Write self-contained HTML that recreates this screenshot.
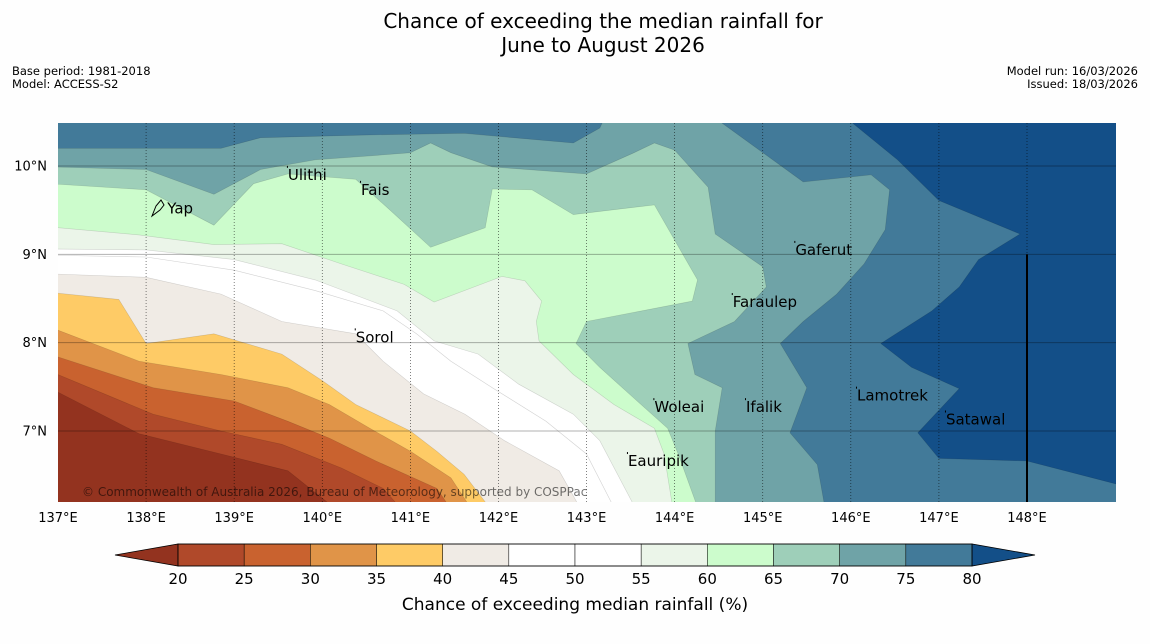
<!DOCTYPE html>
<html><head><meta charset="utf-8"><style>
body{margin:0;background:#fff;width:1150px;height:644px;overflow:hidden;font-family:"Liberation Sans","DejaVu Sans",sans-serif}
svg{display:block}
text{font-family:"DejaVu Sans","Liberation Sans",sans-serif}
</style></head><body>
<svg id="chart" width="1150" height="644" viewBox="0 0 1150 644" xmlns="http://www.w3.org/2000/svg">
<rect width="1150" height="644" fill="#fefefe"/>
<text x="603" y="28" text-anchor="middle" font-size="20" fill="#000">Chance of exceeding the median rainfall for</text>
<text x="603" y="52" text-anchor="middle" font-size="20" fill="#000">June to August 2026</text>
<text x="12" y="75" font-size="11.5">Base period: 1981-2018</text>
<text x="12" y="88" font-size="11.5">Model: ACCESS-S2</text>
<text x="1138" y="75" font-size="11.5" text-anchor="end">Model run: 16/03/2026</text>
<text x="1138" y="88" font-size="11.5" text-anchor="end">Issued: 18/03/2026</text>
<defs><clipPath id="mapclip"><rect x="58" y="123" width="1058" height="379"/></clipPath></defs>
<g id="map" clip-path="url(#mapclip)"></g>
<g id="overlay"></g>
<g id="cbar"></g>
<text x="575" y="610" text-anchor="middle" font-size="17">Chance of exceeding median rainfall (%)</text>
</svg>
<script>
const levels=[20,25,30,35,40,45,50,55,60,65,70,75,80];
const bandColors=["#93331f","#b0492a","#c9622f","#e09448","#fecb66","#f0ebe5","#ffffff","#ffffff","#ebf5e9","#ccfccc","#9ecfb9","#6fa3a7","#427a99","#134f88"];
const lonTicks=[137,138,139,140,141,142,143,144,145,146,147,148];
const latTicks=[7,8,9,10];
const c80=[[145.88,10.6],[146.53,10.07],[147.0,9.61],[147.92,9.23],[147.45,8.94],[147.23,8.63],[146.92,8.36],[146.34,7.99],[146.69,7.72],[147.23,7.48],[146.76,6.98],[147.0,6.69],[148.0,6.66],[149.05,6.39]];
const c75=[[136.9,10.20],[138.85,10.20],[139.30,10.32],[140.46,10.35],[141.61,10.37],[142.85,10.26],[143.15,10.43],[143.23,10.6],[144.38,10.6],[145.46,9.82],[146.23,9.90],[146.44,9.73],[146.39,9.28],[146.15,8.89],[145.84,8.55],[145.46,8.24],[145.20,7.99],[145.50,7.49],[145.31,6.98],[145.62,6.62],[145.73,6.0]];
const c70=[[136.9,9.99],[138.0,9.96],[138.77,9.68],[139.30,9.96],[139.92,10.07],[140.61,10.12],[141.0,10.15],[141.23,10.26],[141.46,10.15],[141.93,9.99],[143.0,9.91],[143.54,10.15],[143.77,10.26],[144.0,10.18],[144.38,9.76],[144.46,9.23],[145.0,8.86],[145.04,8.63],[144.68,8.24],[144.15,7.99],[144.23,7.64],[144.54,7.49],[144.46,7.00],[144.46,6.0]];
const c65=[[136.9,9.80],[138.0,9.73],[138.77,9.33],[139.22,9.80],[139.61,9.91],[140.38,9.85],[140.77,9.50],[141.23,9.08],[141.85,9.30],[141.93,9.74],[142.38,9.73],[142.85,9.45],[143.77,9.56],[144.26,8.71],[144.20,8.47],[143.0,8.24],[142.88,7.99],[143.15,7.72],[143.54,7.37],[143.92,7.03],[144.04,6.74],[144.31,6.0]];
const c60=[[136.9,9.31],[137.92,9.22],[138.77,9.11],[139.54,9.12],[140.22,8.89],[140.93,8.66],[141.27,8.46],[142.04,8.75],[142.30,8.70],[142.49,8.47],[142.43,8.24],[142.46,8.02],[142.85,7.64],[143.31,7.30],[143.77,7.03],[143.88,6.74],[144.0,6.0]];
const c55=[[136.9,9.06],[138.0,9.05],[139.0,8.94],[139.92,8.71],[140.85,8.36],[141.27,8.02],[141.77,7.87],[142.23,7.53],[142.85,7.19],[143.15,6.89],[143.62,6.0]];
const c50=[[136.9,8.99],[138.0,8.97],[139.0,8.82],[139.92,8.59],[140.69,8.36],[141.07,8.10],[141.46,7.79],[141.93,7.49],[142.54,7.11],[143.0,6.74],[143.38,6.0]];
const c45=[[136.9,8.78],[138.0,8.74],[138.85,8.55],[139.54,8.24],[140.38,8.10],[140.69,7.79],[141.15,7.42],[141.62,7.19],[142.07,6.89],[142.69,6.55],[143.0,6.0]];
const c40=[[136.9,8.57],[137.69,8.49],[138.0,7.99],[138.77,8.10],[139.54,7.87],[140.0,7.57],[140.38,7.30],[141.0,7.00],[141.30,6.77],[141.61,6.51],[142.0,6.0]];
const c35=[[136.9,8.18],[137.92,7.79],[138.85,7.64],[139.61,7.49],[140.08,7.30],[140.54,7.03],[141.0,6.77],[141.46,6.47],[141.77,6.0]];
const c30=[[136.9,7.87],[138.08,7.49],[139.0,7.34],[139.61,7.11],[140.08,6.92],[140.61,6.66],[141.30,6.35],[141.54,6.0]];
const c25=[[136.9,7.68],[138.08,7.19],[138.85,7.00],[139.54,6.85],[140.22,6.58],[140.69,6.35],[141.0,6.0]];
const c20=[[136.9,7.49],[137.92,6.97],[138.85,6.74],[139.61,6.55],[140.30,6.0]];
const placeNames=["Yap","Ulithi","Fais","Gaferut","Faraulep","Sorol","Woleai","Ifalik","Lamotrek","Satawal","Eauripik"];
const placeLon=[138.24,139.61,140.44,145.37,144.66,140.38,143.77,144.81,146.07,147.08,143.47];
const placeLat=[9.52,9.90,9.73,9.05,8.46,8.06,7.27,7.27,7.40,7.13,6.66];

const NS="http://www.w3.org/2000/svg";
const X0=58,X1=1027,LON0=137,LON1=148,Y0=166,Y1=431,LAT0=10,LAT1=7;
function xs(lon){return X0+(lon-LON0)*(X1-X0)/(LON1-LON0);}
function ys(lat){return Y0+(lat-LAT0)*(Y1-Y0)/(LAT1-LAT0);}
function mk(tag,attrs,parent){const e=document.createElementNS(NS,tag);for(const k in attrs)e.setAttribute(k,attrs[k]);parent.appendChild(e);return e;}
const map=document.getElementById('map'),ov=document.getElementById('overlay'),cb=document.getElementById('cbar');
const bg=mk('rect',{x:58,y:123,width:1058,height:379,fill:bandColors[13]},map);


const contours=[c80,c75,c70,c65,c60,c55,c45,c40,c35,c30,c25,c20];
const contourLevels=[80,75,70,65,60,55,45,40,35,30,25,20];
contours.forEach((pts,i)=>{
  const lvl=contourLevels[i];
  const col=bandColors[levels.indexOf(lvl)];
  const last=pts[pts.length-1],first=pts[0];
  const all=pts.concat([[last[0],5.9],[136.8,5.9],[136.8,first[1]]]);
  const d='M'+all.map(p=>xs(p[0]).toFixed(1)+','+ys(p[1]).toFixed(1)).join('L')+'Z';
  const p=mk('path',{d:d,fill:col},map);
  
  
  const l=mk('path',{d:'M'+pts.map(q=>xs(q[0]).toFixed(1)+','+ys(q[1]).toFixed(1)).join('L'),fill:'none',stroke:'rgba(0,0,0,0.15)','stroke-width':0.6},map);
  
  
});
const l50=mk('path',{d:'M'+c50.map(q=>xs(q[0]).toFixed(1)+','+ys(q[1]).toFixed(1)).join('L'),fill:'none',stroke:'rgba(0,0,0,0.18)','stroke-width':0.6},map);


// gridlines
lonTicks.forEach(lon=>{
  if(lon>LON0){const g=mk('line',{x1:xs(lon),x2:xs(lon),y1:123,y2:502,stroke:'#000','stroke-width':0.7,'stroke-dasharray':'1,2',opacity:0.7},ov);
  
  }
  const t=mk('text',{x:xs(lon),y:522,'text-anchor':'middle','font-size':13},ov);t.textContent=lon+'°E';
  
  
});
latTicks.forEach(lat=>{
  const g=mk('line',{x1:58,x2:1116,y1:ys(lat),y2:ys(lat),stroke:'#000','stroke-width':1,opacity:0.3},ov);
  
  
  const t=mk('text',{x:47,y:ys(lat)+4.5,'text-anchor':'end','font-size':13},ov);t.textContent=lat+'°N';
  
  
});
const vl=mk('line',{x1:xs(148),x2:xs(148),y1:ys(9),y2:502,stroke:'#000','stroke-width':2},ov);


const yap=mk('path',{d:'M152,216 L156,206 L161,200 L164,205 L160,210 Z',fill:'none',stroke:'#000','stroke-width':1},ov);


placeNames.forEach((n,i)=>{
  const t=mk('text',{x:xs(placeLon[i]),y:ys(placeLat[i])+5,'font-size':15,fill:'#000'},ov);t.textContent=n;
  
  
  if(i>0){const m=mk('rect',{x:xs(placeLon[i])-1,y:ys(placeLat[i])-9,width:1,height:2,fill:'#000'},ov);
  
  }
});
const cr=mk('text',{x:82,y:496,'font-size':12,fill:'#000',opacity:0.55},ov);cr.textContent='© Commonwealth of Australia 2026, Bureau of Meteorology, supported by COSPPac';


// colorbar
const CB0=178,CB1=972,CBY=544,CBH=22;
function cx(v){return CB0+(v-levels[0])*(CB1-CB0)/(levels[levels.length-1]-levels[0]);}
const lt=mk('polygon',{points:`115,${CBY+CBH/2} ${CB0},${CBY} ${CB0},${CBY+CBH}`,fill:bandColors[0],stroke:'#000','stroke-width':0.8},cb);


const rt=mk('polygon',{points:`1035,${CBY+CBH/2} ${CB1},${CBY} ${CB1},${CBY+CBH}`,fill:bandColors[13],stroke:'#000','stroke-width':0.8},cb);


for(let i=0;i<levels.length-1;i++){
  const r=mk('rect',{x:cx(levels[i]),y:CBY,width:cx(levels[i+1])-cx(levels[i]),height:CBH,fill:bandColors[i+1],stroke:'#000','stroke-width':0.5},cb);
  
  
}
levels.forEach(v=>{
  const t=mk('text',{x:cx(v),y:584,'text-anchor':'middle','font-size':15},cb);t.textContent=v;
  
  
});
mk('rect',{x:CB0,y:CBY,width:CB1-CB0,height:CBH,fill:'none',stroke:'#000','stroke-width':0.8},cb);
</script>
</body></html>
